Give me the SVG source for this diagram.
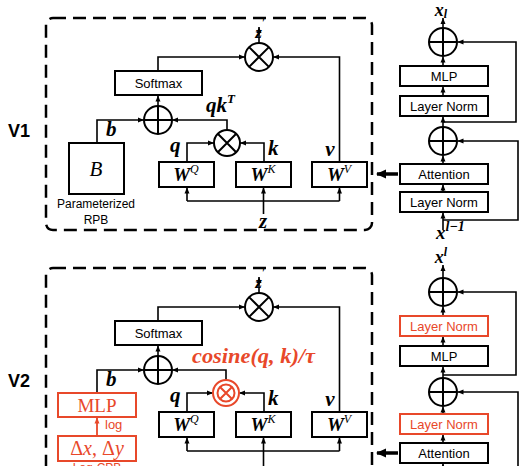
<svg xmlns="http://www.w3.org/2000/svg" width="529" height="466" viewBox="0 0 529 466">
<style>
.box{fill:#fff;stroke:#000;stroke-width:2}
.rbox{fill:#fff;stroke:#e8482a;stroke-width:2}
.op{fill:#fff;stroke:#000;stroke-width:2}
.rop{fill:#fff;stroke:#e8482a;stroke-width:2}
.opl{stroke:#000;stroke-width:2;fill:none}
.ropl{stroke:#e8482a;stroke-width:2;fill:none}
.dash{fill:none;stroke:#000;stroke-width:2.5;stroke-dasharray:13 7}
.c{fill:none;stroke:#000;stroke-width:1.6}
.rc{fill:none;stroke:#e8482a;stroke-width:1.8}
.big{fill:none;stroke:#000;stroke-width:3.5}
.sans{font-family:"Liberation Sans",Arial,sans-serif;font-size:13px;fill:#000}
.vl{font-family:"Liberation Sans",Arial,sans-serif;font-size:18px;font-weight:bold;fill:#000}
.m{font-family:"Liberation Serif","Times New Roman",serif;font-weight:bold;font-style:italic;fill:#000}
.red{fill:#e8482a}
</style>
<defs>
<marker id="ah" markerWidth="6" markerHeight="6" refX="6" refY="3" orient="auto" markerUnits="userSpaceOnUse"><path d="M0,0.5 L6,3 L0,5.5 z" fill="#000"/></marker>
<marker id="ahr" markerWidth="6" markerHeight="6" refX="6" refY="3" orient="auto" markerUnits="userSpaceOnUse"><path d="M0,0.5 L6,3 L0,5.5 z" fill="#e8482a"/></marker>
<marker id="ahb" markerWidth="10" markerHeight="10" refX="9" refY="5" orient="auto" markerUnits="userSpaceOnUse"><path d="M0,0.5 L10,5 L0,9.5 z" fill="#000"/></marker>
</defs>

<!-- ===================== V1 ===================== -->
<g id="v1">
<text class="vl" x="8" y="137">V1</text>
<rect id="v1-frame" class="dash" x="46" y="18" width="326" height="212" rx="7"/>

<g id="v1-connectors">
<path class="c" d="M158,106 V95.5" marker-end="url(#ah)"/>
<path class="c" d="M158,71 V57 H245" marker-end="url(#ah)"/>
<path class="c" d="M339.5,162 V57 H273" marker-end="url(#ah)"/>
<path class="c" d="M259,43 V27" marker-end="url(#ah)"/>
<path class="c" d="M227,130 V120 H172" marker-end="url(#ah)"/>
<path class="c" d="M97,143 V120 H144" marker-end="url(#ah)"/>
<path class="c" d="M187,162 V143 H214" marker-end="url(#ah)"/>
<path class="c" d="M264,162 V143 H240" marker-end="url(#ah)"/>
<path class="c" d="M187,201 H339.5"/>
<path class="c" d="M187,201 V187.5" marker-end="url(#ah)"/>
<path class="c" d="M339.5,201 V187.5" marker-end="url(#ah)"/>
<path class="c" d="M263.5,214 V187.5" marker-end="url(#ah)"/>
<path class="c" d="M443,230 V212.5" marker-end="url(#ah)"/>
<path class="c" d="M443,192 V184.5" marker-end="url(#ah)"/>
<path class="c" d="M443,164 V155.5" marker-end="url(#ah)"/>
<path class="c" d="M443,127 V116.5" marker-end="url(#ah)"/>
<path class="c" d="M443,96 V86.5" marker-end="url(#ah)"/>
<path class="c" d="M443,66 V56.5" marker-end="url(#ah)"/>
<path class="c" d="M443,28 V18" marker-end="url(#ah)"/>
<path class="c" d="M443,220 H518 V141 H457.5" marker-end="url(#ah)"/>
<path class="c" d="M443,122 H516 V42 H457.5" marker-end="url(#ah)"/>
<path class="big" d="M398,174 H377" marker-end="url(#ahb)"/>
</g>

<g id="v1-softmax"><rect class="box" x="115" y="71" width="87" height="24"/><text class="sans" x="158.5" y="88" text-anchor="middle">Softmax</text></g>
<g id="v1-add"><circle class="op" cx="158" cy="120" r="14"/><path class="opl" d="M144,120 H172 M158,106 V134"/></g>
<g id="v1-mul-top"><circle class="op" cx="259" cy="57" r="14"/><path class="opl" d="M249.1,47.1 L268.9,66.9 M268.9,47.1 L249.1,66.9"/></g>
<g id="v1-zprime"><text class="m" x="260" y="38" font-size="17" text-anchor="middle">z<tspan font-size="10" dy="-12">′</tspan></text></g>
<g id="v1-mul-qk"><circle class="op" cx="227" cy="143" r="13"/><path class="opl" d="M217.8,133.8 L236.2,152.2 M236.2,133.8 L217.8,152.2"/></g>
<g id="v1-qkT"><text class="m" x="206" y="112" font-size="21">qk<tspan font-size="13" dy="-9">T</tspan></text></g>
<g id="v1-B"><rect class="box" x="69" y="143" width="55" height="51"/><text x="96" y="176" font-family="Liberation Serif,serif" font-style="italic" font-size="21" text-anchor="middle">B</text>
<text class="sans" x="96" y="208" text-anchor="middle" style="font-size:12px">Parameterized</text><text class="sans" x="96" y="224" text-anchor="middle" style="font-size:12px">RPB</text></g>
<g id="v1-b"><text class="m" x="106" y="136" font-size="21">b</text></g>
<g id="v1-WQ"><rect class="box" x="159" y="162" width="55" height="25"/><text class="m" x="186" y="181" font-size="19" text-anchor="middle">W<tspan font-size="12" font-weight="normal" dy="-8">Q</tspan></text></g>
<g id="v1-WK"><rect class="box" x="236" y="162" width="55" height="25"/><text class="m" x="263" y="181" font-size="19" text-anchor="middle">W<tspan font-size="12" font-weight="normal" dy="-8">K</tspan></text></g>
<g id="v1-WV"><rect class="box" x="312" y="162" width="55" height="25"/><text class="m" x="339" y="181" font-size="19" text-anchor="middle">W<tspan font-size="12" font-weight="normal" dy="-8">V</tspan></text></g>
<g id="v1-q"><text class="m" x="170" y="152" font-size="21">q</text></g>
<g id="v1-k"><text class="m" x="268" y="155" font-size="21">k</text></g>
<g id="v1-v"><text class="m" x="330" y="156" font-size="21" text-anchor="middle">v</text></g>
<g id="v1-z"><text class="m" x="263" y="228" font-size="21" text-anchor="middle">z</text></g>

<g id="v1-xl"><text class="m" x="441" y="16" font-size="18" text-anchor="middle">x<tspan font-size="12" dy="2">l</tspan></text></g>
<g id="v1-add-top"><circle class="op" cx="443" cy="42" r="14"/><path class="opl" d="M429,42 H457 M443,28 V56"/></g>
<g id="v1-mlp"><rect class="box" x="400" y="66" width="88" height="20"/><text class="sans" x="444" y="80.5" text-anchor="middle">MLP</text></g>
<g id="v1-ln2"><rect class="box" x="400" y="96" width="88" height="20"/><text class="sans" x="444" y="110.5" text-anchor="middle">Layer Norm</text></g>
<g id="v1-add-mid"><circle class="op" cx="443" cy="141" r="14"/><path class="opl" d="M429,141 H457 M443,127 V155"/></g>
<g id="v1-attn"><rect class="box" x="400" y="164" width="88" height="20"/><text class="sans" x="444" y="178.5" text-anchor="middle">Attention</text></g>
<g id="v1-ln1"><rect class="box" x="400" y="192" width="88" height="20"/><text class="sans" x="444" y="206.5" text-anchor="middle">Layer Norm</text></g>
<g id="v1-xl1"><text class="m" x="436" y="239" font-size="19">x<tspan font-size="14" dy="-8">l−1</tspan></text></g>
</g>

<!-- ===================== V2 ===================== -->
<text class="vl" x="8" y="387">V2</text>
<g id="v2" transform="translate(0,250)">
<rect id="v2-frame" class="dash" x="46" y="18" width="326" height="212" rx="7"/>

<g id="v2-connectors">
<path class="c" d="M158,106 V95.5" marker-end="url(#ah)"/>
<path class="c" d="M158,71 V57 H245" marker-end="url(#ah)"/>
<path class="c" d="M339.5,162 V57 H273" marker-end="url(#ah)"/>
<path class="c" d="M259,43 V27" marker-end="url(#ah)"/>
<path class="c" d="M226,130 V120 H172" marker-end="url(#ah)"/>
<path class="c" d="M97,143 V120 H144" marker-end="url(#ah)"/>
<path class="c" d="M187,162 V143 H213" marker-end="url(#ah)"/>
<path class="c" d="M264,162 V143 H239" marker-end="url(#ah)"/>
<path class="c" d="M187,201 H339.5"/>
<path class="c" d="M187,201 V187.5" marker-end="url(#ah)"/>
<path class="c" d="M339.5,201 V187.5" marker-end="url(#ah)"/>
<path class="c" d="M263.5,230 V187.5" marker-end="url(#ah)"/>
<path class="rc" d="M97,186 V167.5" marker-end="url(#ahr)"/>
<path class="c" d="M443,230 V213.5" marker-end="url(#ah)"/>
<path class="c" d="M443,193 V184.5" marker-end="url(#ah)"/>
<path class="c" d="M443,163 V156.5" marker-end="url(#ah)"/>
<path class="c" d="M443,128 V116.5" marker-end="url(#ah)"/>
<path class="c" d="M443,96 V86.5" marker-end="url(#ah)"/>
<path class="c" d="M443,66 V56.5" marker-end="url(#ah)"/>
<path class="c" d="M443,28 V15" marker-end="url(#ah)"/>
<path class="c" d="M443,125 H516 V42 H457.5" marker-end="url(#ah)"/>
<path class="c" d="M518,230 V142 H457.5" marker-end="url(#ah)"/>
<path class="big" d="M398,203 H377" marker-end="url(#ahb)"/>
</g>

<g id="v2-softmax"><rect class="box" x="115" y="71" width="87" height="24"/><text class="sans" x="158.5" y="88" text-anchor="middle">Softmax</text></g>
<g id="v2-add"><circle class="op" cx="158" cy="120" r="14"/><path class="opl" d="M144,120 H172 M158,106 V134"/></g>
<g id="v2-mul-top"><circle class="op" cx="259" cy="57" r="14"/><path class="opl" d="M249.1,47.1 L268.9,66.9 M268.9,47.1 L249.1,66.9"/></g>
<g id="v2-zprime"><text class="m" x="260" y="38" font-size="17" text-anchor="middle">z<tspan font-size="10" dy="-12">′</tspan></text></g>
<g id="v2-cos"><circle class="rop" cx="226" cy="143" r="13"/><circle class="rop" cx="226" cy="143" r="8.5"/><path class="ropl" d="M220,137 L232,149 M232,137 L220,149"/></g>
<g id="v2-cos-label"><text class="m red" x="192" y="113" font-size="21" textLength="123" lengthAdjust="spacingAndGlyphs">cosine(q, k)/τ</text></g>
<g id="v2-mlp-cpb"><rect class="rbox" x="58" y="143" width="78" height="24"/><text class="red" x="97" y="162" font-family="Liberation Serif,serif" font-size="19" text-anchor="middle">MLP</text></g>
<g id="v2-log"><text class="sans red" x="105" y="179">log</text></g>
<g id="v2-dxdy"><rect class="rbox" x="58" y="186" width="78" height="25"/><text class="red" x="97" y="205" font-family="Liberation Serif,serif" font-size="20" text-anchor="middle">Δ<tspan font-style="italic">x</tspan>, Δ<tspan font-style="italic">y</tspan></text>
<text class="sans red" x="97" y="222" text-anchor="middle" style="font-size:12px">Log-CPB</text></g>
<g id="v2-b"><text class="m" x="106" y="136" font-size="21">b</text></g>
<g id="v2-WQ"><rect class="box" x="159" y="162" width="55" height="25"/><text class="m" x="186" y="181" font-size="19" text-anchor="middle">W<tspan font-size="12" font-weight="normal" dy="-8">Q</tspan></text></g>
<g id="v2-WK"><rect class="box" x="236" y="162" width="55" height="25"/><text class="m" x="263" y="181" font-size="19" text-anchor="middle">W<tspan font-size="12" font-weight="normal" dy="-8">K</tspan></text></g>
<g id="v2-WV"><rect class="box" x="312" y="162" width="55" height="25"/><text class="m" x="339" y="181" font-size="19" text-anchor="middle">W<tspan font-size="12" font-weight="normal" dy="-8">V</tspan></text></g>
<g id="v2-q"><text class="m" x="170" y="152" font-size="21">q</text></g>
<g id="v2-k"><text class="m" x="268" y="155" font-size="21">k</text></g>
<g id="v2-v"><text class="m" x="330" y="156" font-size="21" text-anchor="middle">v</text></g>

<g id="v2-xl"><text class="m" x="441" y="13" font-size="18" text-anchor="middle">x<tspan font-size="12" dy="-7">l</tspan></text></g>
<g id="v2-add-top"><circle class="op" cx="443" cy="42" r="14"/><path class="opl" d="M429,42 H457 M443,28 V56"/></g>
<g id="v2-ln2"><rect class="rbox" x="400" y="66" width="88" height="20"/><text class="sans red" x="444" y="80.5" text-anchor="middle">Layer Norm</text></g>
<g id="v2-mlp"><rect class="box" x="400" y="96" width="88" height="20"/><text class="sans" x="444" y="110.5" text-anchor="middle">MLP</text></g>
<g id="v2-add-mid"><circle class="op" cx="443" cy="142" r="14"/><path class="opl" d="M429,142 H457 M443,128 V156"/></g>
<g id="v2-ln1"><rect class="rbox" x="400" y="164" width="88" height="20"/><text class="sans red" x="444" y="178.5" text-anchor="middle">Layer Norm</text></g>
<g id="v2-attn"><rect class="box" x="400" y="193" width="88" height="20"/><text class="sans" x="444" y="207.5" text-anchor="middle">Attention</text></g>
</g>
</svg>
